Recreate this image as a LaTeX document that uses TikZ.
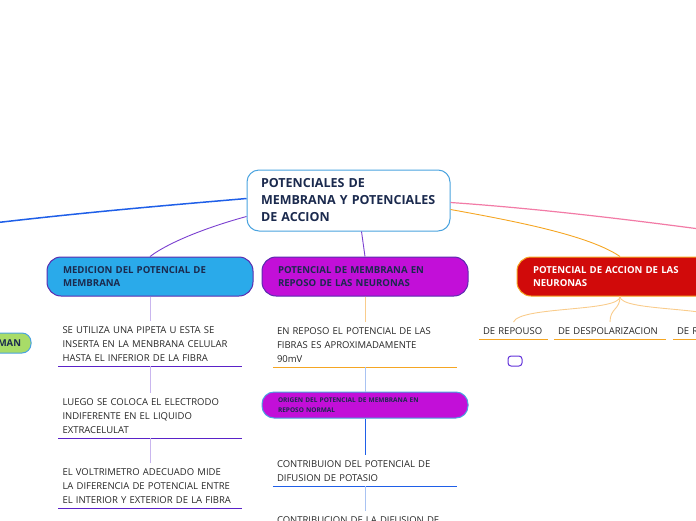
\documentclass[tikz,border=0pt]{standalone}
\usepackage{fontspec}
\setmainfont{Open Sans}
\usetikzlibrary{positioning}

\definecolor{rootline}{HTML}{4AA3DF}
\definecolor{roottext}{HTML}{1B2A4E}
\definecolor{bluelink}{HTML}{1F5FE8}
\definecolor{purplelink}{HTML}{7A3FD0}
\definecolor{pinklink}{HTML}{F27BA6}
\definecolor{orangelink}{HTML}{F5A623}
\definecolor{medfill}{HTML}{2AAAEA}
\definecolor{medline}{HTML}{5B2BB0}
\definecolor{repfill}{HTML}{C20FD8}
\definecolor{accfill}{HTML}{D10A0A}
\definecolor{ulpurple}{HTML}{5A22C8}
\definecolor{lightpurple}{HTML}{C9B6EE}
\definecolor{lightorange}{HTML}{F9CC8C}
\definecolor{lightblue}{HTML}{A9C3F2}
\definecolor{greenfill}{HTML}{A8DC68}

\tikzset{
  topic/.style={draw, line width=1pt, rounded corners=14pt, minimum width=206pt,
    minimum height=39pt, text width=174pt, inner xsep=16pt, align=left,
    font=\fontsize{9.6}{13}\selectfont\bfseries, text=roottext},
  leaf/.style={anchor=north, inner xsep=4pt, inner ysep=5pt, align=left,
    font=\fontsize{9.5}{14}\selectfont, text=black!85},
  link/.style={line width=0.9pt},
}

\begin{document}
\begin{tikzpicture}[x=1pt, y=-1pt]
\useasboundingbox (0,0) rectangle (696,520);
\clip (0,0) rectangle (696,520);

\node[draw=rootline, line width=1pt, fill=white, rounded corners=12pt,
  minimum width=203pt, minimum height=61pt, text width=175pt, inner xsep=14pt,
  align=left, font=\fontsize{12.5}{17}\selectfont\bfseries, text=roottext]
  (root) at (348.5,200.5) {POTENCIALES DE\\MEMBRANA Y POTENCIALES\\DE ACCION};

\node[topic, fill=medfill, draw=medline] (med) at (150,276.5) {MEDICION DEL POTENCIAL DE\\MEMBRANA};
\node[topic, fill=repfill, draw=medline] (rep) at (365,276.5) {POTENCIAL DE MEMBRANA EN\\REPOSO DE LAS NEURONAS};
\node[topic, fill=accfill, draw=orangelink, text=white] (acc) at (620,276.5) {POTENCIAL DE ACCION DE LAS\\NEURONAS};

\coordinate (westend) at (-80,232);
\coordinate (eastend) at (780,240);

\draw[bluelink, line width=1.5pt] ([yshift=2pt]root.west) .. controls (160,206) and (60,214) .. (westend);
\draw[pinklink, line width=1.2pt] ([yshift=-2pt]root.east) .. controls (560,210) and (680,226) .. (eastend);
\draw[purplelink, link] ([yshift=-16pt]root.west) .. controls (215,225) and (172,240) .. (med.north);
\draw[purplelink, link] ([xshift=13pt]root.south) -- (rep.north);
\draw[orangelink, link] ([yshift=-9pt]root.east) .. controls (520,222) and (590,236) .. (acc.north);

% medicion
\node[leaf, text width=175pt] (m1) at (150,321) {SE UTILIZA UNA PIPETA U ESTA SE\\INSERTA EN LA MENBRANA CELULAR\\HASTA EL INFERIOR DE LA FIBRA};
\node[leaf, text width=175pt] (m2) at (150,393) {LUEGO SE COLOCA EL ELECTRODO\\INDIFERENTE EN EL LIQUIDO\\EXTRACELULAT};
\node[leaf, text width=175pt] (m3) at (150,463) {EL VOLTRIMETRO ADECUADO MIDE\\LA DIFERENCIA DE POTENCIAL ENTRE\\EL INTERIOR Y EXTERIOR DE LA FIBRA};
\foreach \n in {m1,m2,m3}
  \draw[ulpurple, line width=1.3pt] (\n.south west) -- (\n.south east);
\draw[lightpurple, link] (med) -- (m1);
\draw[lightpurple, link] (m1) -- (m2);
\draw[lightpurple, link] (m2) -- (m3);

% reposo
\node[leaf, text width=176pt] (c1) at (365,322) {EN REPOSO EL POTENCIAL DE LAS\\FIBRAS ES APROXIMADAMENTE\\90mV};
\node[topic, fill=repfill, draw=rootline, minimum height=26pt, rounded corners=12pt,
  font=\fontsize{6.5}{10}\selectfont\bfseries] (orig) at (365,405) {ORIGEN DEL POTENCIAL DE MEMBRANA EN\\REPOSO NORMAL};
\node[leaf, text width=176pt] (c2) at (365,455) {CONTRIBUION DEL POTENCIAL DE\\DIFUSION DE POTASIO};
\node[leaf, text width=176pt] (c3) at (365,511) {CONTRIBUCION DE LA DIFUSION DE};
\draw[orangelink, line width=1.3pt] (c1.south west) -- (c1.south east);
\draw[bluelink, line width=1.3pt] (c2.south west) -- (c2.south east);
\draw[lightorange, link] (rep) -- (c1);
\draw[lightblue, link] (c1) -- (orig);
\draw[bluelink, link] (orig) -- (c2);
\draw[lightblue, link] (c2) -- (c3);

% accion
\node[leaf, text width=61pt] (r1) at (513.5,322) {DE REPOUSO};
\node[leaf, text width=104pt] (r2) at (610,322) {DE DESPOLARIZACION};
\node[leaf, text width=104pt] (r3) at (729,322) {DE REPOLARIZACION};
\foreach \n in {r1,r2,r3}
  \draw[orangelink, line width=1.3pt] (\n.south west) -- (\n.south east);
\draw[lightorange, link] (acc.south) .. controls (620,312) and (520,306) .. (r1.north);
\draw[lightorange, link] (acc.south) .. controls (620,310) and (610,308) .. (r2.north);
\draw[lightorange, link] (acc.south) .. controls (620,312) and (720,306) .. (r3.north);

\node[draw=purplelink!80!blue, line width=1pt, rounded corners=3pt,
  minimum width=14pt, minimum height=10pt, inner sep=0pt] (dot) at (515,361) {};

\node[draw=rootline, fill=greenfill, line width=1pt, rounded corners=9pt,
  minimum width=70pt, minimum height=20pt, text width=50pt, inner xsep=10pt,
  align=right, font=\fontsize{9.5}{12}\selectfont\bfseries, text=roottext]
  (grn) at (-4,343) {MAN};
\end{tikzpicture}
\end{document}
